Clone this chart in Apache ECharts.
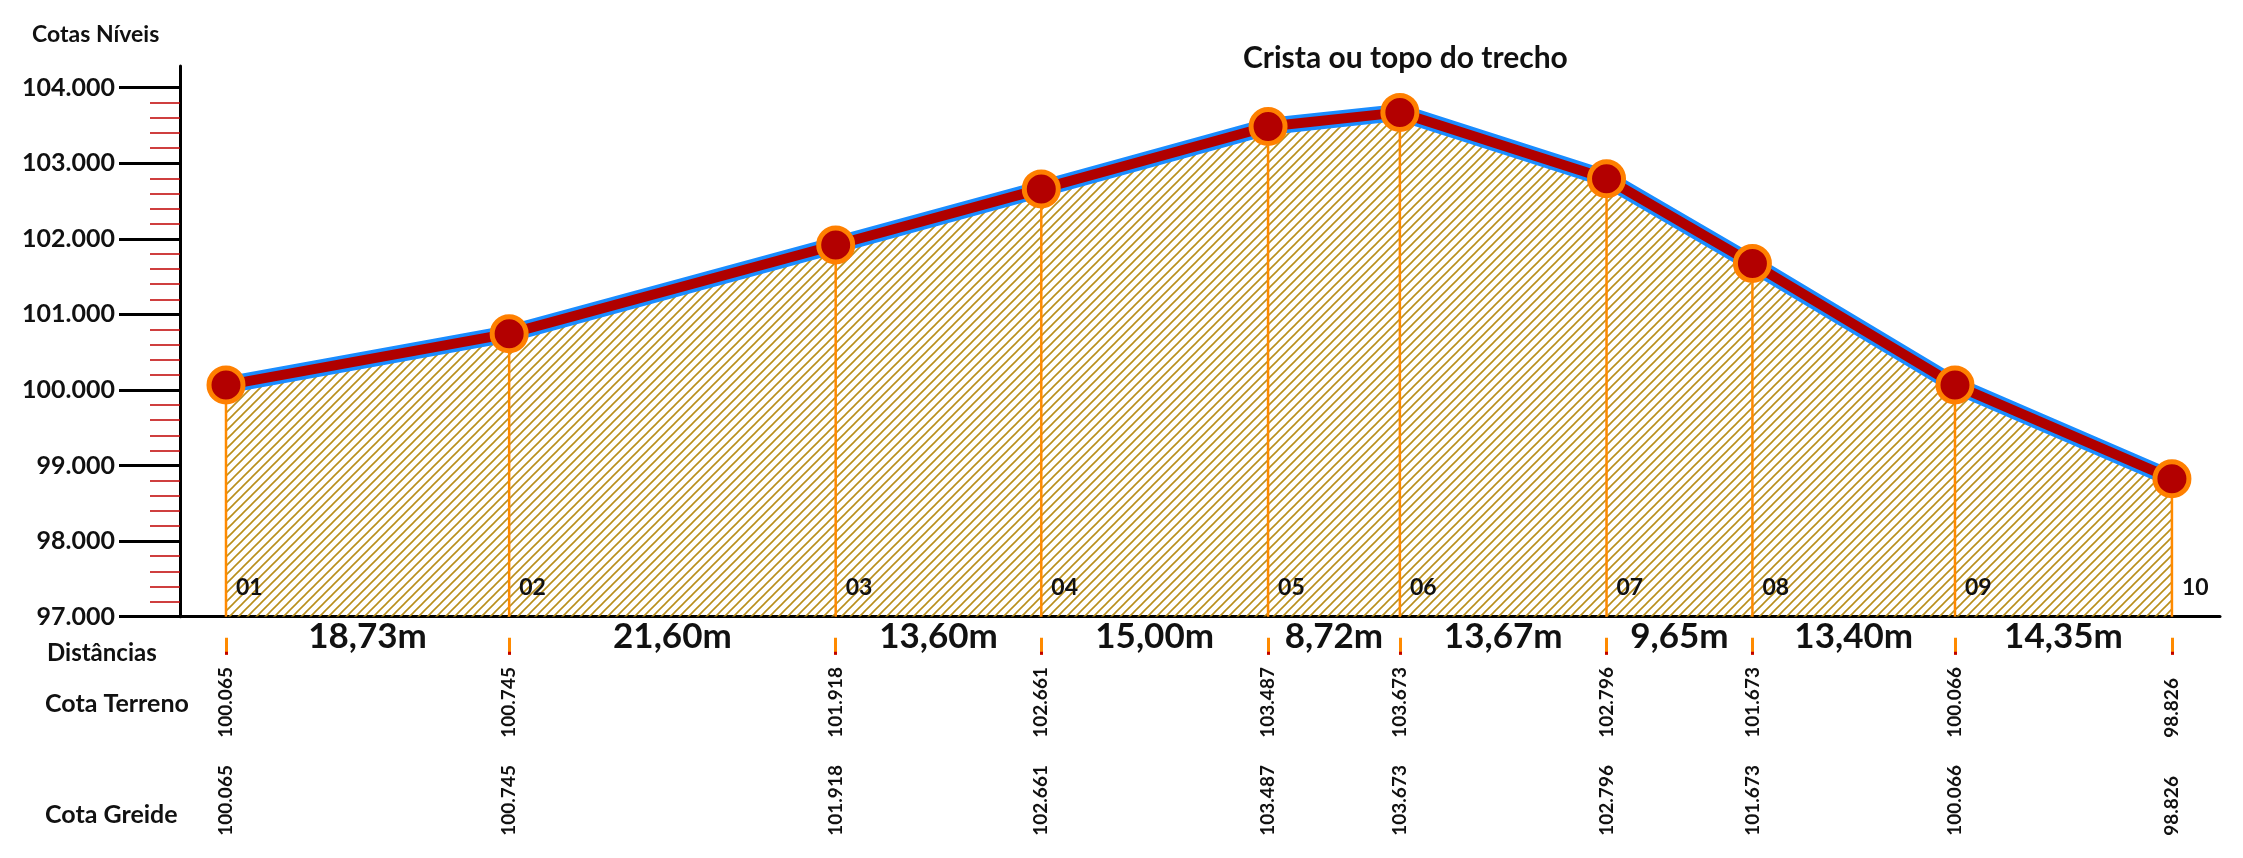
<!DOCTYPE html>
<html>
<head>
<meta charset="utf-8">
<script src="https://cdn.jsdelivr.net/npm/echarts@6/dist/echarts.min.js"></script>
<style>
  html, body { margin: 0; padding: 0; background: #ffffff; }
  #chart { width: 2243px; height: 858px; }
</style>
</head>
<body>
<div id="chart"></div>
<script>
// ---------------- DATA ----------------
const stations = ['01', '02', '03', '04', '05', '06', '07', '08', '09', '10'];
const distances = [18.73, 21.60, 13.60, 15.00, 8.72, 13.67, 9.65, 13.40, 14.35];
const cotaTerreno = [100.065, 100.745, 101.918, 102.661, 103.487, 103.673, 102.796, 101.673, 100.066, 98.826];
const cotaGreide = [100.065, 100.745, 101.918, 102.661, 103.487, 103.673, 102.796, 101.673, 100.066, 98.826];
const yTicks = [97, 98, 99, 100, 101, 102, 103, 104];
const yTickLabels = ['97.000', '98.000', '99.000', '100.000', '101.000', '102.000', '103.000', '104.000'];

// ---------------- DERIVED ----------------
const FONT = 'Lato, "Noto Sans", sans-serif';
const cum = [0];
distances.forEach(function (d, i) { cum.push(+(cum[i] + d).toFixed(2)); });
const mids = distances.map(function (d, i) { return (cum[i] + cum[i + 1]) / 2; });
const yMin = 97, yMax = 104.287;
const xMin = -3.043, xMax = 131.9;
const minorTicks = [];
for (let i = 0; i < yTicks.length - 1; i++) {
  for (let k = 1; k < 5; k++) minorTicks.push(+(yTicks[i] + k * 0.2).toFixed(2));
}
function idxOf(arr, v) {
  for (let i = 0; i < arr.length; i++) if (Math.abs(arr[i] - v) < 1e-6) return i;
  return -1;
}
const lineData = cum.map(function (d, i) { return [d, cotaGreide[i]]; });
const terrData = cum.map(function (d, i) { return [d, cotaTerreno[i]]; });

// hatch pattern
const tile = document.createElement('canvas');
tile.width = 9; tile.height = 9;
(function () {
  const c = tile.getContext('2d');
  c.strokeStyle = '#b98f1c';
  c.lineWidth = 1.6;
  c.beginPath();
  c.moveTo(-1, 10); c.lineTo(10, -1);
  c.moveTo(-2, 2); c.lineTo(2, -2);
  c.moveTo(7, 11); c.lineTo(11, 7);
  c.stroke();
})();

function baseX(extra) {
  return Object.assign({
    type: 'value', min: xMin, max: xMax, gridIndex: 0, position: 'bottom',
    axisLine: { show: false, onZero: false },
    axisTick: { show: false },
    axisLabel: { show: false },
    splitLine: { show: false }
  }, extra);
}

const chart = echarts.init(document.getElementById('chart'), null, { renderer: 'canvas' });
chart.setOption({
  animation: false,
  backgroundColor: '#ffffff',
  title: [
    { text: 'Cotas Níveis', left: 27, top: 18, textStyle: { fontFamily: FONT, fontSize: 23, fontWeight: 'bold', color: '#111' } },
    { text: 'Crista ou topo do trecho', left: 1238, top: 38, textStyle: { fontFamily: FONT, fontSize: 30, fontWeight: 'bold', color: '#111' } },
    { text: 'Distâncias', left: 42, top: 636, textStyle: { fontFamily: FONT, fontSize: 24, fontWeight: 'bold', color: '#111' } },
    { text: 'Cota Terreno', left: 40, top: 686, textStyle: { fontFamily: FONT, fontSize: 25, fontWeight: 'bold', color: '#111' } },
    { text: 'Cota Greide', left: 40, top: 797, textStyle: { fontFamily: FONT, fontSize: 25, fontWeight: 'bold', color: '#111' } }
  ],
  grid: { left: 180, right: 23, top: 66, bottom: 241.3, containLabel: false, outerBoundsMode: 'none' },
  xAxis: [
    baseX({ axisLine: { show: true, onZero: false, lineStyle: { color: '#000', width: 3 } } }),
    baseX({ offset: 21, axisTick: { show: true, customValues: cum, length: 17, lineStyle: { color: '#ff8a00', width: 3 } } }),
    baseX({ offset: 35, axisTick: { show: true, customValues: cum, length: 3, lineStyle: { color: '#c00000', width: 3 } } }),
    baseX({
      axisLabel: {
        show: true, customValues: mids, margin: 20, verticalAlign: 'middle',
        fontFamily: FONT, fontSize: 35, fontWeight: 'bold', color: '#111',
        formatter: function (v) { const i = idxOf(mids, v); return i < 0 ? '' : distances[i].toFixed(2).replace('.', ',') + 'm'; }
      }
    }),
    baseX({
      axisLabel: {
        show: true, customValues: cum, margin: 121, rotate: 90, align: 'left', verticalAlign: 'middle',
        fontFamily: FONT, fontSize: 19, fontWeight: 'bold', color: '#111',
        formatter: function (v) { const i = idxOf(cum, v); return i < 0 ? '' : cotaTerreno[i].toFixed(3); }
      }
    }),
    baseX({
      axisLabel: {
        show: true, customValues: cum, margin: 219, rotate: 90, align: 'left', verticalAlign: 'middle',
        fontFamily: FONT, fontSize: 19, fontWeight: 'bold', color: '#111',
        formatter: function (v) { const i = idxOf(cum, v); return i < 0 ? '' : cotaGreide[i].toFixed(3); }
      }
    })
  ],
  yAxis: [
    {
      type: 'value', min: yMin, max: yMax, interval: 1, position: 'left',
      axisLine: { show: true, onZero: false, lineStyle: { color: '#000', width: 3 } },
      axisTick: { show: true, customValues: yTicks, length: 61, lineStyle: { color: '#000', width: 3 } },
      minorTick: { show: false },
      axisLabel: {
        show: true, customValues: yTicks, margin: 65, fontFamily: FONT, fontSize: 25, fontWeight: 'bold', color: '#111',
        formatter: function (v) { const i = idxOf(yTicks, v); return i < 0 ? '' : yTickLabels[i]; }
      },
      splitLine: { show: false }
    },
    {
      type: 'value', min: yMin, max: yMax, interval: 1, position: 'left',
      axisLine: { show: false, onZero: false },
      axisTick: { show: true, customValues: minorTicks, length: 30, lineStyle: { color: '#c00000', width: 1.5 } },
      axisLabel: { show: false },
      splitLine: { show: false }
    }
  ],
  series: [
    {
      type: 'line', name: 'area', data: terrData, xAxisIndex: 0, yAxisIndex: 0,
      symbol: 'none', silent: true,
      lineStyle: { width: 0 },
      areaStyle: { origin: 'start', opacity: 1, color: { image: tile, repeat: 'repeat' } },
      z: 1
    },
    {
      type: 'custom', name: 'estacas', data: terrData, xAxisIndex: 0, yAxisIndex: 0, silent: true, z: 2,
      renderItem: function (params, api) {
        const x = api.value(0), y = api.value(1);
        const top = api.coord([x, y]);
        const base = api.coord([x, yMin]);
        return {
          type: 'group',
          children: [
            { type: 'line', shape: { x1: top[0], y1: top[1], x2: base[0], y2: base[1] }, style: { stroke: '#ff8a00', lineWidth: 2.5 } },
            { type: 'text', style: { text: stations[params.dataIndex], x: base[0] + 10, y: base[1] - 29, verticalAlign: 'middle', align: 'left', font: 'bold 23px ' + FONT, fill: '#111' } }
          ]
        };
      }
    },
    {
      type: 'line', name: 'contorno', data: lineData, xAxisIndex: 0, yAxisIndex: 0,
      symbol: 'none', silent: true,
      lineStyle: { color: '#1a8cff', width: 17, join: 'round' },
      z: 3
    },
    {
      type: 'line', name: 'greide', data: lineData, xAxisIndex: 0, yAxisIndex: 0,
      symbol: 'circle', symbolSize: 34, showSymbol: true, showAllSymbol: true, silent: true,
      lineStyle: { color: '#b00000', width: 10, join: 'round' },
      itemStyle: { color: '#b30000', borderColor: '#ff8000', borderWidth: 5 },
      z: 4
    }
  ]
});
</script>
</body>
</html>
